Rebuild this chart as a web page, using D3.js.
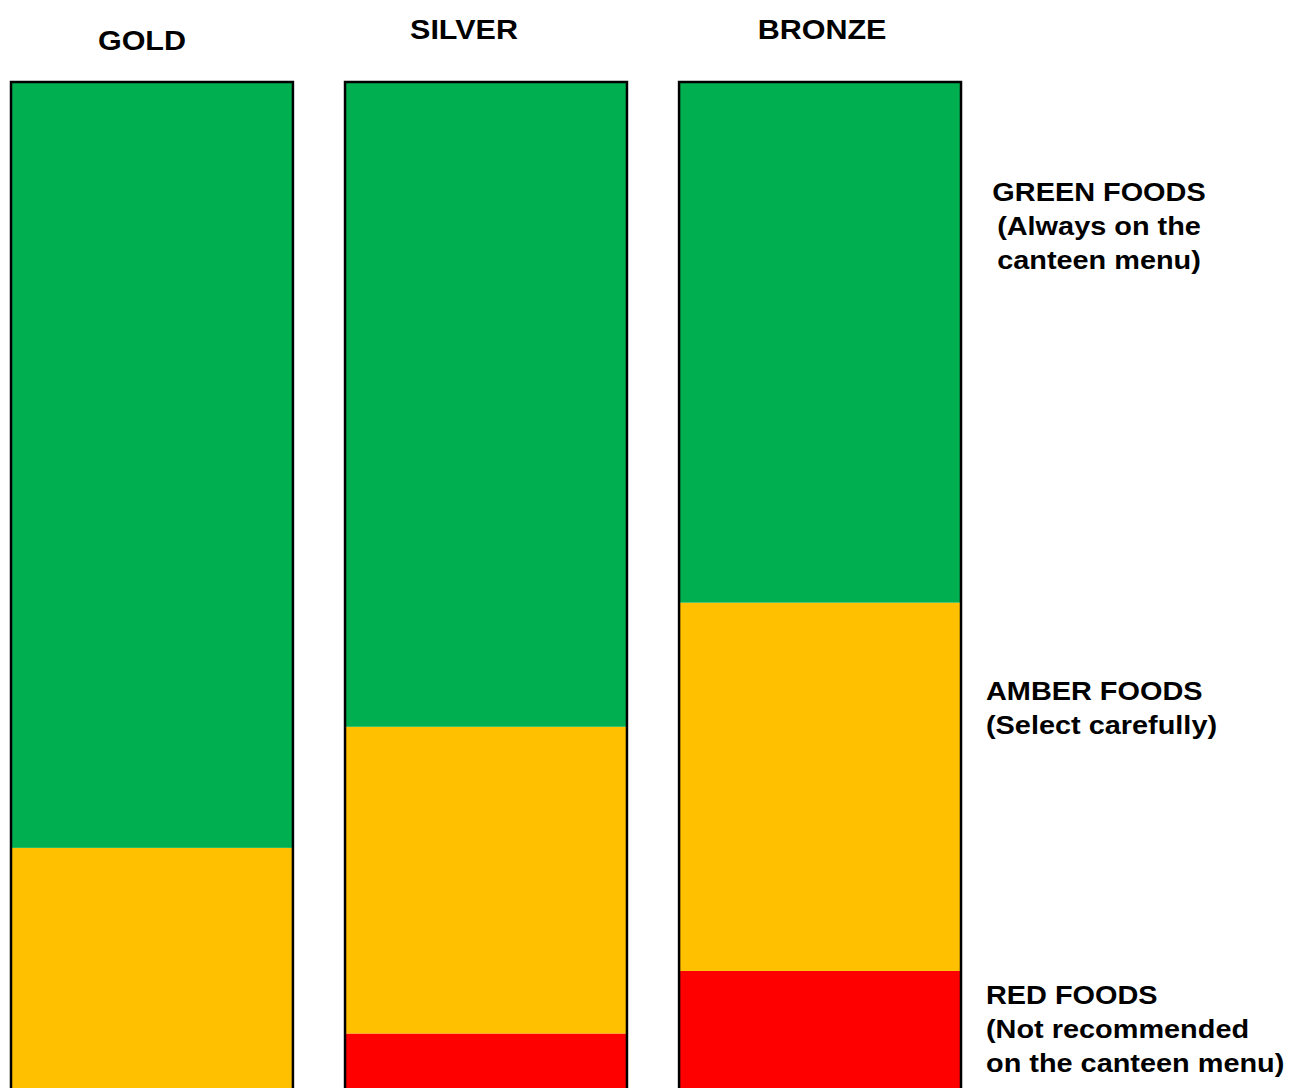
<!DOCTYPE html>
<html>
<head>
<meta charset="utf-8">
<script src="https://cdn.jsdelivr.net/npm/d3@7"></script>
<style>
  body { margin: 0; background: #fff; }
  text { font-family: "Liberation Sans", Arial, sans-serif; font-weight: bold; fill: #000; }
</style>
</head>
<body>
<div id="chart"></div>
<script>
const levels = ['GOLD', 'SILVER', 'BRONZE'];
const foodTypes = ['red', 'amber', 'green'];
// share of menu (%), bottom to top
const redValues = [0, 5.6, 11.8];
const amberValues = [24, 30.4, 36.5];
const greenValues = [76, 64, 51.7];
const colors = ['#FF0000', '#FFC000', '#00B050'];
const notes = [
  { lines: ['GREEN FOODS', '(Always on the', 'canteen menu)'], anchor: 'middle', x: 1099, y: 201 },
  { lines: ['AMBER FOODS', '(Select carefully)'], anchor: 'start', x: 986, y: 700 },
  { lines: ['RED FOODS', '(Not recommended', 'on the canteen menu)'], anchor: 'start', x: 986, y: 1004 }
];

const width = 1291, height = 1088;
const barTop = 81, barBottom = 1090;

const svg = d3.select('#chart')
    .append('svg')
    .attr('width', width)
    .attr('height', height);

const table = levels.map((lvl, i) => ({
  level: lvl, red: redValues[i], amber: amberValues[i], green: greenValues[i]
}));

const stack = d3.stack().keys(foodTypes);
const series = stack(table);

const x = d3.scaleBand()
    .domain(levels)
    .range([10, 962])
    .paddingInner(0.15)
    .paddingOuter(0);

const y = d3.scaleLinear()
    .domain([0, 100])
    .range([barBottom, barTop]);

const color = d3.scaleOrdinal().domain(foodTypes).range(colors);

svg.append('g')
  .selectAll('g')
  .data(series)
  .join('g')
    .attr('fill', d => color(d.key))
  .selectAll('rect')
  .data(d => d)
  .join('rect')
    .attr('x', d => x(d.data.level))
    .attr('y', d => y(d[1]))
    .attr('width', x.bandwidth())
    .attr('height', d => y(d[0]) - y(d[1]));

// bar outlines
svg.append('g')
  .selectAll('rect')
  .data(levels)
  .join('rect')
    .attr('x', d => x(d) + 1)
    .attr('y', y(100) + 1)
    .attr('width', x.bandwidth() - 2)
    .attr('height', y(0) - y(100) + 10)
    .attr('fill', 'none')
    .attr('stroke', '#000')
    .attr('stroke-width', 2.5);

// titles (not quite centred in the original)
const titleY = [50, 39, 39];
const titleDx = [-10, -22, 2];
svg.append('g')
  .selectAll('text')
  .data(levels)
  .join('text')
    .attr('transform', (d, i) => `translate(${x(d) + x.bandwidth() / 2 + titleDx[i]},${titleY[i]}) scale(1.09,1)`)
    .attr('text-anchor', 'middle')
    .style('font-size', '28px')
    .text(d => d);

// annotations
notes.forEach(n => {
  const g = svg.append('g');
  g.selectAll('text')
    .data(n.lines)
    .join('text')
      .attr('transform', (d, i) => `translate(${n.x},${n.y + i * 34}) scale(1.09,1)`)
      .attr('text-anchor', n.anchor)
      .style('font-size', '26.5px')
      .text(d => d);
});
</script>
</body>
</html>
